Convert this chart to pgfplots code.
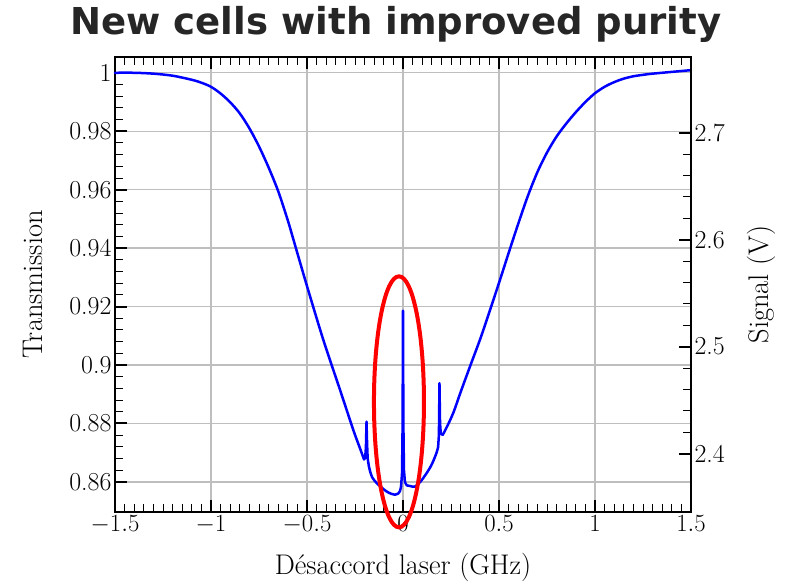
\documentclass[border=0pt]{standalone}
\usepackage{pgfplots}
\pgfplotsset{compat=1.18}
\usepackage{fontspec}
\newfontfamily\titlefont{DejaVu Sans}
\definecolor{gridgray}{RGB}{190,190,190}
\definecolor{titlegray}{RGB}{38,38,38}
\tikzset{curve/.style={blue, line width=2.5bp, line join=round, line cap=round, mark=none}}
\begin{document}
\begin{tikzpicture}
\begin{axis}[
  scale only axis,
  width=576bp, height=455bp,
  at={(0,0)}, anchor=south west,
  xmin=-1.5, xmax=1.5,
  ymin=0.8497, ymax=1.0054,
  xtick={-1.5,-1,-0.5,0,0.5,1,1.5},
  ytick={0.86,0.88,0.9,0.92,0.94,0.96,0.98,1},
  yticklabels={0.86,0.88,0.9,0.92,0.94,0.96,0.98,1},
  xticklabels={$-1.5$,$-1$,$-0.5$,$0$,$0.5$,$1$,$1.5$},
  minor x tick num=9,
  minor y tick num=4,
  xtick pos=both, ytick pos=left,
  tick align=inside,
  major tick length=12bp, minor tick length=8bp,
  every major tick/.style={line width=2bp, black},
  every minor tick/.style={line width=0.9bp, black},
  grid=major,
  major grid style={gridgray, line width=1.4bp},
  tick label style={font=\fontsize{26}{30}\selectfont},
  label style={font=\fontsize{28.5}{32}\selectfont},
  xlabel={Désaccord laser (GHz)},
  xlabel style={at={(axis description cs:0.5,-0.121)}, anchor=center},
  ylabel={Transmission},
  ylabel style={at={(axis description cs:-0.143,0.5)}, anchor=center},
  title={\titlefont\bfseries New cells with improved purity},
  title style={at={(0.5,1)}, anchor=base, yshift=17bp, xshift=-7bp,
    font=\fontsize{37.2}{40}\selectfont, text=titlegray},
  axis line style={line width=2bp},
  clip=false,
]
% left wing
\addplot[curve, smooth] coordinates {
(-1.5,1.0000) (-1.4,1.0000) (-1.3,0.9997) (-1.2,0.9990) (-1.1,0.9976)
(-1.05,0.9966) (-1.0,0.9952) (-0.95,0.9929) (-0.9,0.9899) (-0.85,0.9861)
(-0.8,0.9810) (-0.75,0.9748) (-0.7,0.9676) (-0.649,0.9593) (-0.6,0.9495)
(-0.571,0.9430) (-0.5,0.9270) (-0.415,0.9086) (-0.328,0.8915)
(-0.259,0.8778) (-0.224,0.8715) (-0.203,0.8677)
};
% left spike
\addplot[curve] coordinates {
(-0.203,0.8677) (-0.197,0.8682) (-0.193,0.8720) (-0.190,0.8806) (-0.187,0.8730)
(-0.184,0.8680) (-0.178,0.8655)
};
% bottom left
\addplot[curve, smooth] coordinates {
(-0.178,0.8655) (-0.172,0.8638) (-0.160,0.8615) (-0.137,0.8596) (-0.110,0.8580)
(-0.085,0.8567) (-0.060,0.8559) (-0.042,0.8556) (-0.025,0.8560) (-0.016,0.8568)
(-0.010,0.8585)
};
% central spike
\addplot[curve] coordinates {
(-0.010,0.8585) (-0.005,0.8630) (-0.002,0.8800) (0.0,0.9186) (0.002,0.8800)
(0.005,0.8640) (0.010,0.8600)
};
% bottom right
\addplot[curve, smooth] coordinates {
(0.010,0.8600) (0.020,0.8588) (0.036,0.8586) (0.0625,0.8584) (0.09,0.8600)
(0.123,0.8630) (0.150,0.8660) (0.175,0.8700) (0.183,0.8720)
};
% right spike
\addplot[curve] coordinates {
(0.183,0.8720) (0.187,0.8760) (0.190,0.8938) (0.193,0.8800) (0.197,0.8765)
(0.207,0.8761)
};
% right wing
\addplot[curve, smooth] coordinates {
(0.207,0.8761) (0.230,0.8790) (0.263,0.8838) (0.30,0.8907) (0.349,0.8995)
(0.40,0.9085) (0.436,0.9154) (0.5,0.9281) (0.55,0.9383) (0.6,0.9483)
(0.65,0.9578) (0.7,0.9660) (0.75,0.9727) (0.8,0.9782) (0.85,0.9826)
(0.9,0.9865) (0.95,0.9900) (1.0,0.9930) (1.05,0.9952) (1.1,0.9968)
(1.15,0.9980) (1.2,0.9988) (1.25,0.9993) (1.3,0.9997) (1.4,1.0003)
(1.5,1.0009)
};
\draw[red, line width=4bp] (axis cs:-0.021,0.8874) ellipse [x radius=25bp, y radius=125.5bp];
\end{axis}
\begin{axis}[
  scale only axis,
  width=576bp, height=455bp,
  at={(0,0)}, anchor=south west,
  xmin=-1.5, xmax=1.5,
  ymin=2.3454, ymax=2.7708,
  hide x axis,
  axis y line*=right,
  ytick={2.4,2.5,2.6,2.7},
  yticklabels={2.4,2.5,2.6,2.7},
  minor y tick num=4,
  tick align=inside,
  major tick length=12bp, minor tick length=8bp,
  every major tick/.style={line width=2bp, black},
  every minor tick/.style={line width=0.9bp, black},
  tick label style={font=\fontsize{26}{30}\selectfont},
  label style={font=\fontsize{28.5}{32}\selectfont},
  ylabel={Signal (V)},
  ylabel style={at={(axis description cs:1.123,0.5)}, anchor=center},
  axis line style={line width=2bp, -},
]
\end{axis}
\pgfresetboundingbox
\path (-115bp,-74bp) rectangle (683bp,512bp);
\end{tikzpicture}
\end{document}
